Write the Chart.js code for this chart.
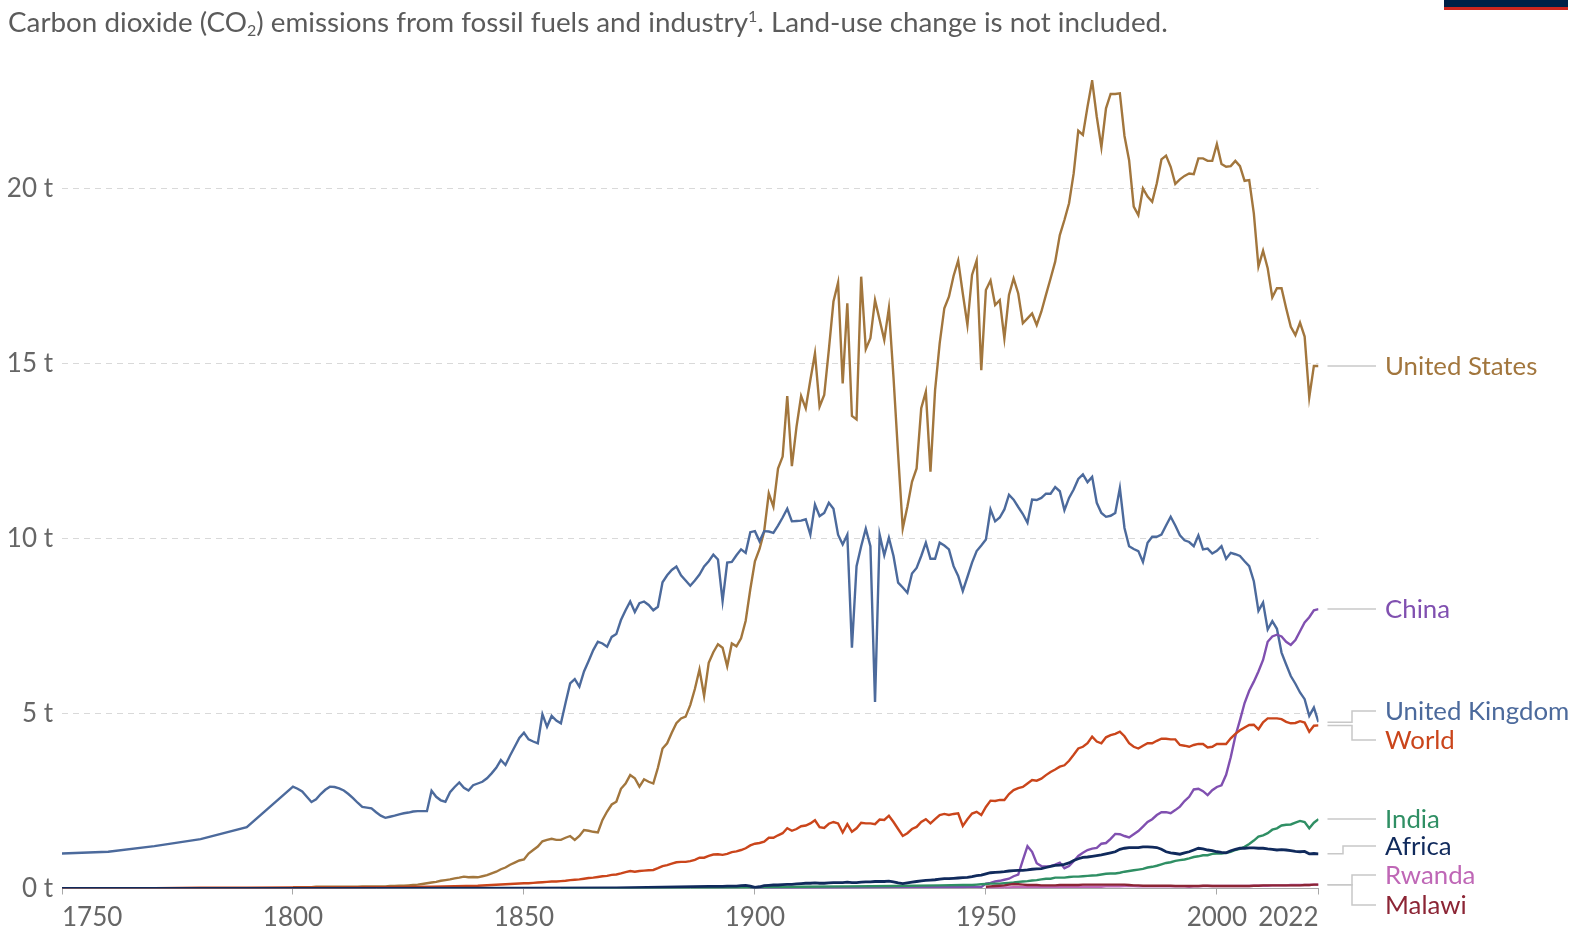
<!DOCTYPE html>
<html>
<head>
<meta charset="utf-8">
<script src="https://cdn.jsdelivr.net/npm/chart.js@4.4.1/dist/chart.umd.min.js"></script>
<style>
html,body{margin:0;padding:0;background:#fff;}
#wrap{position:relative;width:1576px;height:937px;overflow:hidden;background:#fff;}
#c{position:absolute;left:0;top:0;}
#title{position:absolute;left:8px;top:7px;font-family:Lato,'Noto Sans',sans-serif;font-size:27.8px;color:#5b5b5b;white-space:nowrap;line-height:30px;}
#title sub{font-size:16px;vertical-align:-4px;line-height:0;}
#title sup{font-size:16px;vertical-align:10px;line-height:0;}
#logo{position:absolute;left:1444px;top:0;width:124px;height:7px;background:#002147;border-bottom:3px solid #ce261e;}
</style>
</head>
<body>
<div id="wrap">
<canvas id="c" width="1576" height="937"></canvas>
<div id="title">Carbon dioxide (CO<sub>2</sub>) emissions from fossil fuels and industry<sup>1</sup>. Land-use change is not included.</div>
<div id="logo"></div>
</div>
<script>
// ---------------- DATA (tonnes CO2 per person) ----------------
const xTickYears = [1750, 1800, 1850, 1900, 1950, 2000, 2022];
const yTickValues = [0, 5, 10, 15, 20];

const seriesNames = ['United States', 'United Kingdom', 'China', 'World', 'India', 'Africa', 'Rwanda', 'Malawi'];

// United Kingdom
const ukEarlyYears = [1750, 1760, 1770, 1780, 1790];
const ukEarlyValues = [1.00, 1.05, 1.21, 1.41, 1.75];
const ukStart = 1800;
const ukValues = [
  2.91, 2.85, 2.77, 2.62, 2.47, 2.55, 2.70, 2.82, 2.91, 2.90,
  2.86, 2.80, 2.70, 2.58, 2.45, 2.33, 2.31, 2.29, 2.18, 2.08,
  2.02, 2.05, 2.08, 2.12, 2.15, 2.17, 2.20, 2.21, 2.21, 2.21,
  2.79, 2.62, 2.52, 2.48, 2.75, 2.90, 3.03, 2.88, 2.80, 2.95,
  3.00, 3.05, 3.15, 3.29, 3.45, 3.67, 3.53, 3.80, 4.05, 4.30,
  4.45, 4.26, 4.20, 4.15, 4.98, 4.62, 4.93, 4.80, 4.72, 5.30,
  5.86, 5.98, 5.77, 6.20, 6.50, 6.81, 7.05, 7.00, 6.91, 7.19,
  7.27, 7.67, 7.95, 8.20, 7.90, 8.15, 8.20, 8.10, 7.95, 8.05,
  8.75, 8.95, 9.10, 9.20, 8.95, 8.80, 8.65, 8.80, 8.97, 9.20,
  9.35, 9.54, 9.40, 8.21, 9.31, 9.33, 9.52, 9.69, 9.59, 10.18,
  10.21, 9.92, 10.21, 10.20, 10.16, 10.37, 10.60, 10.85, 10.49, 10.50,
  10.51, 10.55, 10.11, 10.97, 10.64, 10.73, 11.02, 10.85, 10.11, 9.83,
  10.11, 6.88, 9.21, 9.78, 10.28, 9.78, 5.33, 10.11, 9.52, 10.02,
  9.50, 8.74, 8.60, 8.45, 9.00, 9.16, 9.50, 9.88, 9.42, 9.42,
  9.88, 9.80, 9.69, 9.21, 8.93, 8.50, 8.90, 9.31, 9.64, 9.80,
  9.97, 10.83, 10.49, 10.60, 10.83, 11.25, 11.11, 10.90, 10.70, 10.45,
  11.11, 11.10, 11.16, 11.28, 11.28, 11.47, 11.35, 10.81, 11.16, 11.40,
  11.70, 11.83, 11.61, 11.76, 11.02, 10.73, 10.62, 10.65, 10.73, 11.44,
  10.30, 9.78, 9.70, 9.64, 9.33, 9.88, 10.05, 10.05, 10.11, 10.37,
  10.62, 10.37, 10.09, 9.95, 9.90, 9.78, 10.09, 9.69, 9.71, 9.57,
  9.65, 9.78, 9.42, 9.59, 9.55, 9.50, 9.35, 9.21, 8.78, 7.93,
  8.17, 7.40, 7.64, 7.42, 6.74, 6.40, 6.07, 5.85, 5.60, 5.41,
  4.93, 5.17, 4.75
];

// United States
const usStart = 1800;
const usValues = [
  0.04, 0.04, 0.04, 0.04, 0.04, 0.05, 0.05, 0.05, 0.05, 0.05,
  0.05, 0.05, 0.05, 0.05, 0.05, 0.06, 0.06, 0.06, 0.06, 0.06,
  0.06, 0.07, 0.07, 0.08, 0.08, 0.09, 0.10, 0.11, 0.13, 0.15,
  0.17, 0.19, 0.22, 0.24, 0.26, 0.29, 0.31, 0.34, 0.32, 0.33,
  0.32, 0.35, 0.38, 0.43, 0.48, 0.55, 0.60, 0.68, 0.74, 0.80,
  0.83, 1.00, 1.10, 1.20, 1.35, 1.39, 1.42, 1.39, 1.39, 1.45,
  1.50, 1.39, 1.50, 1.67, 1.65, 1.62, 1.60, 1.96, 2.20, 2.40,
  2.48, 2.85, 3.00, 3.24, 3.15, 2.91, 3.12, 3.05, 3.00, 3.45,
  4.00, 4.15, 4.45, 4.72, 4.86, 4.91, 5.24, 5.70, 6.26, 5.50,
  6.45, 6.75, 6.98, 6.88, 6.35, 7.00, 6.92, 7.15, 7.65, 8.55,
  9.35, 9.70, 10.20, 11.29, 10.91, 12.00, 12.34, 14.07, 12.07, 13.19,
  14.07, 13.72, 14.53, 15.29, 13.77, 14.10, 15.39, 16.77, 17.31, 14.43,
  16.72, 13.50, 13.40, 17.48, 15.41, 15.72, 16.81, 16.24, 15.67, 16.58,
  14.60, 12.40, 10.29, 10.91, 11.62, 12.00, 13.72, 14.19, 11.91, 14.24,
  15.58, 16.58, 16.91, 17.50, 17.94, 17.00, 16.10, 17.53, 17.94, 14.81,
  17.10, 17.37, 16.67, 16.81, 15.72, 16.96, 17.43, 17.00, 16.15, 16.29,
  16.43, 16.10, 16.48, 16.96, 17.43, 17.91, 18.67, 19.10, 19.58, 20.43,
  21.65, 21.53, 22.34, 23.08, 22.05, 21.18, 22.29, 22.70, 22.70, 22.72,
  21.50, 20.81, 19.48, 19.24, 20.00, 19.77, 19.62, 20.15, 20.83, 20.94,
  20.62, 20.13, 20.26, 20.36, 20.43, 20.41, 20.86, 20.86, 20.79, 20.79,
  21.27, 20.70, 20.62, 20.64, 20.79, 20.64, 20.22, 20.24, 19.29, 17.77,
  18.22, 17.72, 16.89, 17.15, 17.15, 16.58, 16.05, 15.81, 16.17, 15.77,
  14.03, 14.93, 14.93
];

// World
const worldEarlyYears = [1750, 1760, 1770, 1780, 1790, 1800, 1810, 1820, 1830, 1840];
const worldEarlyValues = [0.01, 0.01, 0.01, 0.02, 0.02, 0.03, 0.03, 0.04, 0.05, 0.08];
const worldStart = 1850;
const worldValues = [
  0.15, 0.15, 0.16, 0.17, 0.18, 0.19, 0.20, 0.20, 0.21, 0.22,
  0.24, 0.25, 0.26, 0.28, 0.30, 0.31, 0.33, 0.35, 0.36, 0.39,
  0.40, 0.43, 0.47, 0.50, 0.48, 0.50, 0.51, 0.52, 0.53, 0.58,
  0.64, 0.67, 0.71, 0.75, 0.76, 0.76, 0.78, 0.82, 0.88, 0.88,
  0.93, 0.97, 0.98, 0.96, 0.99, 1.04, 1.06, 1.10, 1.15, 1.23,
  1.28, 1.30, 1.34, 1.45, 1.45, 1.52, 1.58, 1.72, 1.65, 1.70,
  1.78, 1.80, 1.86, 1.95, 1.75, 1.73, 1.85, 1.90, 1.86, 1.60,
  1.84, 1.62, 1.72, 1.88, 1.86, 1.86, 1.84, 1.97, 1.96, 2.08,
  1.90, 1.70, 1.50, 1.58, 1.70, 1.76, 1.90, 1.98, 1.86, 1.98,
  2.10, 2.13, 2.10, 2.13, 2.15, 1.79, 1.98, 2.14, 2.19, 2.10,
  2.33, 2.51, 2.50, 2.53, 2.53, 2.70, 2.81, 2.87, 2.90, 3.00,
  3.10, 3.08, 3.14, 3.24, 3.33, 3.40, 3.48, 3.52, 3.65, 3.82,
  4.00, 4.05, 4.15, 4.34, 4.20, 4.15, 4.32, 4.38, 4.42, 4.48,
  4.35, 4.15, 4.05, 4.00, 4.08, 4.15, 4.15, 4.22, 4.28, 4.28,
  4.26, 4.26, 4.10, 4.08, 4.05, 4.10, 4.13, 4.13, 4.03, 4.05,
  4.13, 4.13, 4.13, 4.29, 4.42, 4.52, 4.60, 4.67, 4.68, 4.55,
  4.75, 4.86, 4.86, 4.86, 4.84, 4.76, 4.72, 4.73, 4.78, 4.74,
  4.48, 4.65, 4.66
];

// China
const chinaEarlyYears = [1899, 1910, 1920, 1930, 1940];
const chinaEarlyValues = [0.01, 0.02, 0.03, 0.04, 0.05];
const chinaStart = 1945;
const chinaValues = [
  0.04, 0.05, 0.05, 0.05, 0.04,
  0.14, 0.16, 0.20, 0.22, 0.25, 0.28, 0.35, 0.40, 0.81, 1.21,
  1.05, 0.72, 0.64, 0.63, 0.64, 0.68, 0.74, 0.58, 0.64, 0.78,
  0.93, 1.02, 1.10, 1.14, 1.16, 1.28, 1.30, 1.42, 1.56, 1.55,
  1.50, 1.46, 1.55, 1.64, 1.77, 1.90, 1.98, 2.10, 2.18, 2.18,
  2.15, 2.24, 2.34, 2.50, 2.62, 2.83, 2.85, 2.78, 2.67, 2.81,
  2.90, 2.95, 3.25, 3.75, 4.35, 4.81, 5.30, 5.65, 5.91, 6.20,
  6.53, 7.05, 7.20, 7.25, 7.20, 7.05, 6.96, 7.10, 7.35, 7.60,
  7.75, 7.95, 7.98
];

// India
const indiaEarlyYears = [1858, 1870, 1880, 1890, 1900, 1910, 1920, 1930, 1940];
const indiaEarlyValues = [0.00, 0.01, 0.01, 0.02, 0.03, 0.05, 0.06, 0.07, 0.09];
const indiaStart = 1945;
const indiaValues = [
  0.10, 0.10, 0.10, 0.11, 0.12,
  0.13, 0.14, 0.14, 0.14, 0.15, 0.16, 0.17, 0.19, 0.20, 0.21,
  0.23, 0.24, 0.26, 0.28, 0.28, 0.31, 0.31, 0.31, 0.33, 0.34,
  0.34, 0.35, 0.36, 0.37, 0.38, 0.40, 0.42, 0.43, 0.43, 0.45,
  0.48, 0.50, 0.52, 0.54, 0.56, 0.60, 0.62, 0.65, 0.69, 0.73,
  0.75, 0.79, 0.81, 0.83, 0.86, 0.90, 0.92, 0.95, 0.95, 0.99,
  1.00, 1.00, 1.02, 1.05, 1.10, 1.13, 1.19, 1.27, 1.37, 1.48,
  1.52, 1.58, 1.68, 1.72, 1.80, 1.82, 1.83, 1.88, 1.93, 1.90,
  1.72, 1.88, 1.98
];

// Africa
const africaEarlyYears = [1750, 1800, 1850, 1870, 1880];
const africaEarlyValues = [0.00, 0.00, 0.01, 0.02, 0.04];
const africaStart = 1890;
const africaValues = [
  0.06, 0.06, 0.06, 0.06, 0.07, 0.07, 0.07, 0.08, 0.09, 0.07,
  0.03, 0.05, 0.08, 0.09, 0.10, 0.10, 0.11, 0.12, 0.12, 0.13,
  0.14, 0.15, 0.15, 0.16, 0.15, 0.15, 0.16, 0.17, 0.17, 0.17,
  0.18, 0.17, 0.17, 0.18, 0.19, 0.19, 0.20, 0.20, 0.20, 0.21,
  0.19, 0.16, 0.14, 0.16, 0.18, 0.20, 0.22, 0.23, 0.24, 0.25,
  0.27, 0.28, 0.28, 0.29, 0.30, 0.31, 0.32, 0.34, 0.37, 0.38,
  0.42, 0.45, 0.46, 0.47, 0.48, 0.50, 0.51, 0.52, 0.52, 0.53,
  0.55, 0.56, 0.57, 0.60, 0.63, 0.66, 0.67, 0.69, 0.73, 0.80,
  0.85, 0.89, 0.90, 0.92, 0.94, 0.96, 0.99, 1.02, 1.05, 1.12,
  1.15, 1.17, 1.17, 1.17, 1.19, 1.19, 1.18, 1.17, 1.12, 1.05,
  1.02, 1.00, 0.98, 1.02, 1.05, 1.10, 1.15, 1.13, 1.10, 1.08,
  1.05, 1.03, 1.02, 1.08, 1.12, 1.15, 1.15, 1.16, 1.16, 1.15,
  1.15, 1.13, 1.12, 1.10, 1.11, 1.10, 1.08, 1.06, 1.05, 1.06,
  0.99, 1.00, 0.99
];

// Rwanda
const rwandaStart = 1950;
const rwandaValues = [
  0.03, 0.03, 0.03, 0.03, 0.03, 0.03, 0.04, 0.04, 0.04, 0.04,
  0.04, 0.04, 0.04, 0.04, 0.04, 0.04, 0.04, 0.05, 0.05, 0.05,
  0.05, 0.05, 0.05, 0.05, 0.05, 0.05, 0.06, 0.06, 0.06, 0.06,
  0.07, 0.07, 0.07, 0.06, 0.06, 0.06, 0.06, 0.06, 0.06, 0.06,
  0.06, 0.06, 0.06, 0.06, 0.05, 0.06, 0.06, 0.07, 0.07, 0.07,
  0.07, 0.07, 0.07, 0.07, 0.07, 0.07, 0.07, 0.07, 0.08, 0.08,
  0.08, 0.08, 0.09, 0.09, 0.09, 0.09, 0.10, 0.10, 0.10, 0.10,
  0.10, 0.11, 0.11
];

// Malawi
const malawiStart = 1950;
const malawiValues = [
  0.05, 0.06, 0.07, 0.08, 0.09, 0.11, 0.13, 0.12, 0.11, 0.10,
  0.10, 0.10, 0.09, 0.09, 0.09, 0.09, 0.10, 0.10, 0.10, 0.10,
  0.10, 0.11, 0.11, 0.11, 0.11, 0.11, 0.11, 0.11, 0.11, 0.11,
  0.11, 0.10, 0.09, 0.09, 0.08, 0.08, 0.08, 0.08, 0.08, 0.08,
  0.08, 0.07, 0.07, 0.07, 0.07, 0.07, 0.07, 0.08, 0.08, 0.07,
  0.07, 0.07, 0.07, 0.07, 0.07, 0.07, 0.07, 0.07, 0.08, 0.08,
  0.09, 0.09, 0.09, 0.09, 0.09, 0.09, 0.09, 0.09, 0.09, 0.10,
  0.10, 0.11, 0.11
];

// ---------------- helpers ----------------
function toPoints(earlyYears, earlyValues, start, values) {
  const pts = [];
  earlyYears.forEach((yr, i) => pts.push({x: yr, y: earlyValues[i]}));
  values.forEach((v, i) => pts.push({x: start + i, y: v}));
  return pts;
}

const colors = {
  'United States': '#a2763d',
  'United Kingdom': '#4c6a9c',
  'China': '#8050b0',
  'World': '#ca451b',
  'India': '#2f8f64',
  'Africa': '#102a5c',
  'Rwanda': '#bf67b6',
  'Malawi': '#8c2535'
};

const seriesPoints = {
  'United States': toPoints([], [], usStart, usValues),
  'United Kingdom': toPoints(ukEarlyYears, ukEarlyValues, ukStart, ukValues),
  'China': toPoints(chinaEarlyYears, chinaEarlyValues, chinaStart, chinaValues),
  'World': toPoints(worldEarlyYears, worldEarlyValues, worldStart, worldValues),
  'India': toPoints(indiaEarlyYears, indiaEarlyValues, indiaStart, indiaValues),
  'Africa': toPoints(africaEarlyYears, africaEarlyValues, africaStart, africaValues),
  'Rwanda': toPoints([], [], rwandaStart, rwandaValues),
  'Malawi': toPoints([], [], malawiStart, malawiValues)
};

// drawing order (lower = on top)
const drawOrder = {'Africa': 0, 'Malawi': 1, 'Rwanda': 2, 'India': 3, 'World': 4, 'China': 5, 'United Kingdom': 6, 'United States': 7};

const datasets = seriesNames.map(name => ({
  label: name,
  data: seriesPoints[name],
  borderColor: colors[name],
  backgroundColor: colors[name],
  borderWidth: name === 'Africa' ? 2.8 : 2.4,
  order: drawOrder[name],
  pointRadius: 0,
  tension: 0,
  fill: false
}));

// label placement (pixel layout of right-hand labels)
const labelLayout = {
  'United States': {y: 366, elbow: 1352},
  'China': {y: 609, elbow: 1352},
  'United Kingdom': {y: 711, elbow: 1352},
  'World': {y: 740, elbow: 1352},
  'India': {y: 819, elbow: 1352},
  'Africa': {y: 846, elbow: 1343},
  'Rwanda': {y: 875, elbow: 1352},
  'Malawi': {y: 905, elbow: 1352}
};

const FONT = "Lato, 'Noto Sans', sans-serif";

const sidePlugin = {
  id: 'sideLabels',
  afterDraw(chart) {
    const ctx = chart.ctx;
    const xs = chart.scales.x, ys = chart.scales.y;
    ctx.save();
    // x-axis labels
    ctx.font = '26px ' + FONT;
    ctx.fillStyle = '#666666';
    ctx.textBaseline = 'alphabetic';
    xTickYears.forEach((yr, i) => {
      const px = xs.getPixelForValue(yr);
      ctx.textAlign = i === 0 ? 'left' : (i === xTickYears.length - 1 ? 'right' : 'center');
      ctx.fillText(String(yr), px, 925.5);
    });
    // series labels with connectors
    const x0 = chart.chartArea.right + 9;
    const x1 = 1376;
    ctx.strokeStyle = '#c8c8c8';
    ctx.lineWidth = 1.5;
    chart.data.datasets.forEach(ds => {
      const lay = labelLayout[ds.label];
      const last = ds.data[ds.data.length - 1];
      const endY = ys.getPixelForValue(last.y);
      ctx.beginPath();
      if (Math.abs(endY - lay.y) < 2) {
        ctx.moveTo(x0, lay.y); ctx.lineTo(x1, lay.y);
      } else {
        ctx.moveTo(x0, endY); ctx.lineTo(lay.elbow, endY);
        ctx.lineTo(lay.elbow, lay.y); ctx.lineTo(x1, lay.y);
      }
      ctx.stroke();
    });
    ctx.font = '25.8px ' + FONT;
    ctx.textAlign = 'left';
    ctx.textBaseline = 'alphabetic';
    chart.data.datasets.forEach(ds => {
      const lay = labelLayout[ds.label];
      ctx.fillStyle = ds.borderColor;
      ctx.fillText(ds.label, 1385, lay.y + 9);
    });
    ctx.restore();
  }
};

new Chart(document.getElementById('c'), {
  type: 'line',
  data: {datasets},
  options: {
    responsive: false,
    animation: false,
    events: [],
    layout: {padding: {top: 80, right: 257.5, left: 0, bottom: 0}},
    plugins: {legend: {display: false}, tooltip: {enabled: false}, title: {display: false}},
    scales: {
      x: {
        type: 'linear', min: 1750, max: 2022,
        afterBuildTicks: s => { s.ticks = xTickYears.map(v => ({value: v})); },
        afterFit: s => { s.height = 48.5; },
        grid: {drawOnChartArea: false, drawTicks: true, tickLength: 6, color: '#a8a8a8', lineWidth: 1},
        border: {display: true, color: '#a8a8a8', width: 1},
        ticks: {callback: () => '', autoSkip: false, maxRotation: 0}
      },
      y: {
        type: 'linear', min: 0, max: 23.1,
        afterBuildTicks: s => { s.ticks = yTickValues.map(v => ({value: v})); },
        afterFit: s => { s.width = 62; },
        grid: {
          color: c => (c.tick && c.tick.value === 0) ? 'rgba(0,0,0,0)' : '#d9d9d9',
          drawTicks: false, lineWidth: 1
        },
        border: {display: false, dash: [6, 5]},
        ticks: {
          callback: v => v + ' t',
          font: {family: FONT, size: 26},
          color: '#666666',
          padding: 9
        }
      }
    }
  },
  plugins: [sidePlugin]
});
</script>
</body>
</html>
